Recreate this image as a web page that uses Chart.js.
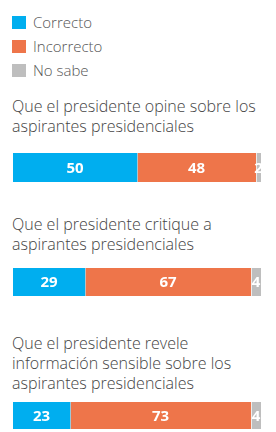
<!DOCTYPE html>
<html>
<head>
<meta charset="utf-8">
<script src="https://cdn.jsdelivr.net/npm/chart.js@4"></script>
<style>
  body { margin: 0; width: 276px; height: 432px; background: #fff; position: relative; overflow: hidden;
         font-family: 'Open Sans', 'Lato', sans-serif; color: #4a4a4a; }
  .legend { position: absolute; left: 12px; top: 12px; }
  .legend div { height: 24px; line-height: 20px; font-size: 15px; font-weight: 300; color: #555; }
  .legend span { display: inline-block; width: 14px; height: 13px; margin-right: 7px; vertical-align: -1px; }
  .q { position: absolute; left: 12px; width: 264px; font-size: 16px; line-height: 20px; font-weight: 300; color: #444; }
  .bar { position: absolute; left: 13px; width: 248px; }
</style>
</head>
<body>
<div class="legend" id="legend"></div>
<div class="q" style="top:96px">Que el presidente opine sobre los<br>aspirantes presidenciales</div>
<div class="bar" style="top:153px;height:29px"><canvas id="c0"></canvas></div>
<div class="q" style="top:214px">Que el presidente critique a<br>aspirantes presidenciales</div>
<div class="bar" style="top:268px;height:28px"><canvas id="c1"></canvas></div>
<div class="q" style="top:333px">Que el presidente revele<br>información sensible sobre los<br>aspirantes presidenciales</div>
<div class="bar" style="top:402px;height:27px"><canvas id="c2"></canvas></div>
<script>
// Series
const seriesNames = ['Correcto', 'Incorrecto', 'No sabe'];
const seriesColors = ['#00AEEF', '#EE754A', '#BEBEBE'];
const correcto = [50, 29, 23];
const incorrecto = [48, 67, 73];
const noSabe = [2, 4, 4];

// Legend
const legend = document.getElementById('legend');
seriesNames.forEach((n, i) => {
  const d = document.createElement('div');
  d.innerHTML = `<span style="background:${seriesColors[i]}"></span>${n}`;
  legend.appendChild(d);
});

// Value labels inside segments
const valueLabels = {
  id: 'valueLabels',
  afterDatasetsDraw(chart) {
    const ctx = chart.ctx;
    ctx.save();
    ctx.font = 'bold 15px "Open Sans", sans-serif';
    ctx.fillStyle = '#fff';
    ctx.textAlign = 'center';
    ctx.textBaseline = 'middle';
    chart.data.datasets.forEach((ds, i) => {
      chart.getDatasetMeta(i).data.forEach((bar, j) => {
        const x = (bar.x + bar.base) / 2;
        ctx.fillText(ds.data[j], x, bar.y + 1);
      });
    });
    ctx.restore();
  }
};

const values = [correcto, incorrecto, noSabe];
for (let k = 0; k < 3; k++) {
  new Chart(document.getElementById('c' + k), {
    type: 'bar',
    data: {
      labels: [''],
      datasets: seriesNames.map((n, i) => ({
        label: n,
        data: [values[i][k]],
        backgroundColor: seriesColors[i],
        borderColor: '#fff',
        borderWidth: { left: i > 0 ? 1 : 0, right: 0, top: 0, bottom: 0 },
        borderSkipped: false,
        barPercentage: 1,
        categoryPercentage: 1
      }))
    },
    options: {
      indexAxis: 'y',
      responsive: true,
      maintainAspectRatio: false,
      animation: false,
      layout: { padding: 0 },
      plugins: { legend: { display: false }, tooltip: { enabled: false } },
      scales: {
        x: { stacked: true, min: 0, max: 100, display: false },
        y: { stacked: true, display: false }
      }
    },
    plugins: [valueLabels]
  });
}
</script>
</body>
</html>
